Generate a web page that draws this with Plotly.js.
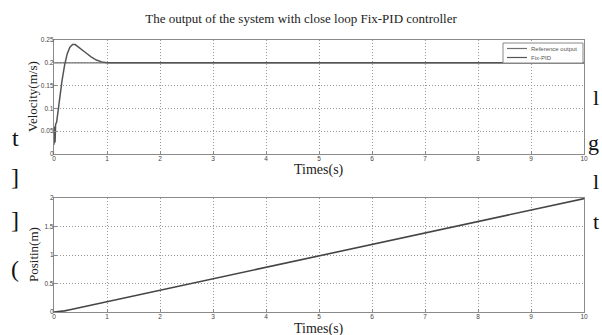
<!DOCTYPE html>
<html>
<head>
<meta charset="utf-8">
<script src="https://cdn.plot.ly/plotly-3.0.1.min.js"></script>
<style>html,body{margin:0;padding:0;background:#fff;}#chart{width:602px;height:335px;}</style>
</head>
<body>
<div id="chart"></div>
<script>
// Velocity response (top)
const velTime = [0, 0.01, 0.02, 0.03, 0.05, 0.08, 0.1, 0.15, 0.2, 0.25, 0.3, 0.35, 0.4, 0.5, 0.6, 0.7, 0.8, 0.9, 1.0, 10];
const velFixPID = [0.02, 0.06, 0.025, 0.065, 0.07, 0.1, 0.12, 0.16, 0.195, 0.22, 0.234, 0.24, 0.24, 0.232, 0.222, 0.213, 0.206, 0.202, 0.2, 0.2];
const refTime = [0, 10];
const refOutput = [0.2, 0.2];
// Position response (bottom)
const posTime = [0, 0.1, 0.2, 0.3, 0.5, 1, 2, 3, 4, 5, 6, 7, 8, 9, 10];
const posValues = [0, 0.005, 0.02, 0.04, 0.08, 0.19, 0.39, 0.59, 0.79, 0.99, 1.19, 1.39, 1.59, 1.79, 1.99];
const xTicks = [0, 1, 2, 3, 4, 5, 6, 7, 8, 9, 10];
const velTicks = [0, 0.05, 0.1, 0.15, 0.2, 0.25];
const posTicks = [0, 0.5, 1, 1.5, 2];
const legendNames = ['Reference output', 'Fix-PID'];

const serif = 'Liberation Serif, Times New Roman, serif';
const sans = 'Liberation Sans, Arial, sans-serif';

const traces = [
  {x: refTime, y: refOutput, type: 'scatter', mode: 'lines', name: legendNames[0],
   line: {color: '#707070', width: 1.3}, xaxis: 'x', yaxis: 'y'},
  {x: velTime, y: velFixPID, type: 'scatter', mode: 'lines', name: legendNames[1],
   line: {color: '#555', width: 1.5}, xaxis: 'x', yaxis: 'y'},
  {x: posTime, y: posValues, type: 'scatter', mode: 'lines', name: 'Position',
   line: {color: '#444', width: 1.6}, xaxis: 'x2', yaxis: 'y2'}
];

const axisCommon = {
  showline: true, mirror: true, linecolor: '#8a8a8a', linewidth: 1.2,
  showgrid: true, gridcolor: '#999', griddash: '1px,2px', gridwidth: 1,
  ticks: 'inside', ticklen: 3, tickcolor: '#8a8a8a', ticklabelstandoff: -2,
  tickfont: {family: sans, size: 6.5, color: '#444'}, zeroline: false
};

// pixel -> paper helpers for decoration placement
const px = v => (v - 54) / 530;
const py = v => (312 - v) / 272;

const glyph = (t, x, y, size, anchor) => ({text: t, xref: 'paper', yref: 'paper', x: px(x), y: py(y),
  showarrow: false, xanchor: anchor || 'center', yanchor: 'middle', font: {family: serif, size: size, color: '#111'}});

const layout = {
  width: 602, height: 335,
  margin: {l: 54, r: 18, t: 40, b: 23},
  paper_bgcolor: '#fff', plot_bgcolor: '#fff',
  title: {text: 'The output of the system with close loop Fix-PID controller',
          font: {family: serif, size: 13, color: '#222'}, x: 0.5, xanchor: 'center', y: 0.945, yanchor: 'middle'},
  showlegend: false,
  xaxis: Object.assign({}, axisCommon, {domain: [0, 1], range: [0, 10], tickvals: xTicks, anchor: 'y'}),
  yaxis: Object.assign({}, axisCommon, {domain: [0.581, 1], range: [0, 0.25], tickvals: velTicks,
          ticktext: ['0', '0.05', '0.1', '0.15', '0.2', '0.25'], anchor: 'x'}),
  xaxis2: Object.assign({}, axisCommon, {domain: [0, 1], range: [0, 10], tickvals: xTicks, anchor: 'y2'}),
  yaxis2: Object.assign({}, axisCommon, {domain: [0, 0.419], range: [0, 2], tickvals: posTicks,
          ticktext: ['0', '0.5', '1', '1.5', '2'], anchor: 'x2'}),
  shapes: [
    {type: 'rect', xref: 'paper', yref: 'paper', x0: px(503), x1: px(583), y0: py(63), y1: py(43),
     line: {color: '#888', width: 1}, fillcolor: '#fff', layer: 'above'},
    {type: 'line', xref: 'paper', yref: 'paper', x0: px(507), x1: px(527), y0: py(48.5), y1: py(48.5),
     line: {color: '#707070', width: 1.2}, layer: 'above'},
    {type: 'line', xref: 'paper', yref: 'paper', x0: px(507), x1: px(527), y0: py(57.5), y1: py(57.5),
     line: {color: '#555', width: 1.2}, layer: 'above'}
  ],
  annotations: [
    {text: legendNames[0], xref: 'paper', yref: 'paper', x: px(529), y: py(48.5), showarrow: false,
     xanchor: 'left', yanchor: 'middle', font: {family: sans, size: 6, color: '#555'}},
    {text: legendNames[1], xref: 'paper', yref: 'paper', x: px(529), y: py(57.5), showarrow: false,
     xanchor: 'left', yanchor: 'middle', font: {family: sans, size: 6, color: '#555'}},
    {text: 'Times(s)', xref: 'paper', yref: 'paper', x: 0.5, y: py(170), showarrow: false,
     xanchor: 'center', yanchor: 'middle', font: {family: serif, size: 14, color: '#222'}},
    {text: 'Times(s)', xref: 'paper', yref: 'paper', x: 0.5, y: py(328.5), showarrow: false,
     xanchor: 'center', yanchor: 'middle', font: {family: serif, size: 14, color: '#222'}},
    {text: 'Velocity(m/s)', xref: 'paper', yref: 'paper', x: px(32), y: py(97), textangle: -90, showarrow: false,
     xanchor: 'center', yanchor: 'middle', font: {family: serif, size: 13, color: '#222'}},
    {text: 'Positin(m)', xref: 'paper', yref: 'paper', x: px(33), y: py(255), textangle: -90, showarrow: false,
     xanchor: 'center', yanchor: 'middle', font: {family: serif, size: 13, color: '#222'}},
    glyph('t', 15, 138, 24),
    glyph(']', 15, 177, 24),
    glyph(']', 15, 220, 24),
    glyph('(', 15, 269, 24),
    glyph('l', 601, 97, 22, 'right'),
    glyph('g', 601, 142, 22, 'right'),
    glyph('l', 601, 182, 22, 'right'),
    glyph('t', 601, 221, 22, 'right')
  ]
};

Plotly.newPlot('chart', traces, layout, {displayModeBar: false, staticPlot: true});
</script>
</body>
</html>
